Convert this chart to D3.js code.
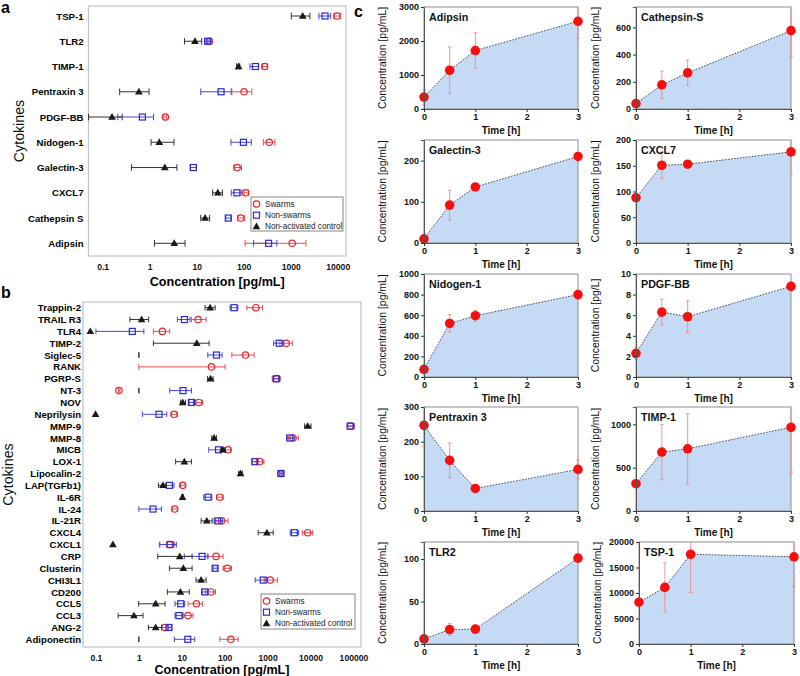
<!DOCTYPE html>
<html><head><meta charset="utf-8">
<script src="https://cdn.jsdelivr.net/npm/d3@7"></script>
<style>body{margin:0;background:#fff} text{font-family:"Liberation Sans",Arial,sans-serif}</style>
</head><body><svg id="fig" width="800" height="676"></svg>
<script>
// ---------- Panel a data ----------
const catsA = ["TSP-1","TLR2","TIMP-1","Pentraxin 3","PDGF-BB","Nidogen-1","Galectin-3","CXCL7","Cathepsin S","Adipsin"];
const aSwMean = [9700, 18.6, 279, 102, 2.16, 350, 72.6, 110, 86.7, 1076];
const aSwLo   = [8300, 16.9, 250, 56, 2.0, 262, 62, 102, 74, 107];
const aSwHi   = [11500, 20.8, 318, 149, 2.31, 461, 89.7, 126, 105, 2110];
const aNsMean = [5370, 17.1, 178, 33, 0.70, 98.7, 8.5, 71.6, 47, 339];
const aNsLo   = [3980, 15.9, 136, 12.2, 0.21, 53.6, 7.3, 54.4, 41.5, 162];
const aNsHi   = [7080, 18.3, 206, 54, 1.21, 145, 9.9, 88, 53.6, 507];
const aCtMean = [1800, 9.2, 77.6, 0.59, 0.158, 1.6, 2.1, 28.2, 15.1, 3.33];
const aCtLo   = [1030, 5.5, 70.5, 0.23, 0.05, 1.07, 0.41, 21.8, 12.2, 1.27];
const aCtHi   = [2560, 12.8, 82.6, 0.97, 0.26, 3.3, 3.8, 35.3, 18.9, 5.66];
const ticksA = [0.1, 1, 10, 100, 1000, 10000];

// ---------- Panel b data ----------
const catsB = ["Trappin-2","TRAIL R3","TLR4","TIMP-2","Siglec-5","RANK","PGRP-S","NT-3","NOV","Neprilysin","MMP-9","MMP-8","MICB","LOX-1","Lipocalin-2","LAP(TGFb1)","IL-6R","IL-24","IL-21R","CXCL4","CXCL1","CRP","Clusterin","CHI3L1","CD200","CCL5","CCL3","ANG-2","Adiponectin"];
const bSwMean = [533, 24, 3.54, 2720, 306, 49.3, 1622, 0.343, 24.9, 6.6, 84900, 3900, 120, 650, 2045, 10.5, 77, 6.85, 85, 8590, 5.24, 63, 114, 1151, 47.5, 22, 14, 4.07, 139];
const bSwLo   = [329, 16.8, 2.18, 1937, 147, 1.0, 1282, 0.33, 20.8, 5.74, 72300, 3030, 105, 543, 1900, 9.3, 64.4, 5.9, 62, 6440, 3.1, 40, 92, 834, 35.7, 14, 11.1, 3.4, 77];
const bSwHi   = [764, 36.9, 5.24, 3758, 487, 102, 1969, 0.36, 30.4, 7.9, 105000, 5190, 139, 820, 2200, 12, 92, 7.9, 120, 11250, 6.85, 92, 144, 1710, 61, 30.4, 18.3, 4.9, 206];
const bNsMean = [166, 11.5, 0.705, 1867, 64.5, null, 1590, 10.7, 16.8, 2.95, 84000, 3320, 71.8, 505, 2045, 5.15, 41.1, 2.14, 69.2, 4190, 5.33, 29.7, 59.8, 791, 34.4, 9.46, 8.6, 5.04, 13.8];
const bNsLo   = [134, 7.9, 0.10, 1380, 40.4, null, 1352, 5.24, 14.8, 1.21, 73000, 2780, 42.6, 437, 1950, 4.23, 32.6, 1.0, 56.7, 3370, 3.0, 11.5, 54, 514, 29.7, 6.97, 6.97, 4.5, 6.73];
const bNsHi   = [203, 15.6, 1.31, 2365, 87.2, null, 1807, 16.8, 18.7, 4.46, 103000, 4190, 100.8, 584, 2150, 6.6, 50, 3.35, 89, 5290, 7.5, 41, 67, 1000, 41, 11.7, 10.5, 5.7, 20.1];
const bCtMean = [45.7, 1.16, 0.074, 22.4, null, null, 46.7, null, 10.5, 0.098, 8590, 56.7, 90.5, 11.5, 234, 3.65, 10.4, null, 38.3, 963, 0.249, 8.97, 10.9, 28.2, 9.3, 2.47, 0.77, 2.47, null];
const bCtLo   = [34.9, 0.62, null, 2.18, 1, null, 40, 1, 9.3, null, 7310, 50, 81, 7.2, 210, 2.85, 9.9, null, 28.2, 604, null, 2.75, 5.15, 21.5, 4.62, 0.99, 0.33, 1.67, 1];
const bCtHi   = [59.8, 1.69, null, 43.3, 1, null, 53.7, 1, 12.2, null, 10260, 64.4, 102, 16.8, 261, 4.39, 10.9, null, 51, 1352, null, 17.4, 17.4, 36.9, 15, 4.07, 1.25, 3.4, 1];
const ticksB = [0.1, 1, 10, 100, 1000, 10000, 100000];

// ---------- Panel c data ----------
const cTimes = [0, 0.5, 1, 3];
const cNames = ["Adipsin","Cathepsin-S","Galectin-3","CXCL7","Nidogen-1","PDGF-BB","Pentraxin 3","TIMP-1","TLR2","TSP-1"];
const cMeans = [
  [350, 1140, 1720, 2580],
  [40, 178, 266, 576],
  [10, 92, 136, 210],
  [88, 151, 153, 177],
  [75, 520, 595, 800],
  [2.3, 6.3, 5.85, 8.8],
  [247, 146, 65, 120],
  [315, 680, 718, 966],
  [6, 17, 17.5, 101],
  [8200, 11100, 17600, 17100]
];
const cSDs = [
  [220, 680, 520, 500],
  [25, 100, 93, 193],
  [5, 36, 5, 5],
  [5, 25, 4, 43],
  [20, 85, 55, 40],
  [0.6, 1.25, 1.55, 0.3],
  [60, 50, 5, 27],
  [40, 320, 405, 520],
  [3, 7, 5, 3],
  [500, 4800, 7500, 5900]
];
const cYMax = [3000, 750, 250, 200, 1000, 10, 300, 1200, 120, 20000];
const cYStep = [1000, 200, 100, 50, 200, 2, 100, 500, 50, 5000];
const cYUnit = ["[pg/mL]","[pg/mL]","[pg/mL]","[pg/mL]","[pg/mL]","[pg/L]","[pg/mL]","[pg/mL]","[pg/mL]","[pg/mL]"];
const cXTicks = [0, 1, 2, 3];

const legendLabels = ["Swarms", "Non-swarms", "Non-activated control"];

// ---------- drawing ----------
const svg = d3.select("#fig");
const RED = "#e8262c", BLUE = "#2a2ad6", BLACK = "#1a1a1a";

function marker(g, shape, cx, cy, color) {
  if (shape === "circle") {
    g.append("circle").attr("cx", cx).attr("cy", cy).attr("r", 3.2)
      .attr("fill", "none").attr("stroke", color).attr("stroke-width", 1.2);
  } else if (shape === "square") {
    g.append("rect").attr("x", cx - 3).attr("y", cy - 3).attr("width", 6).attr("height", 6)
      .attr("fill", "none").attr("stroke", color).attr("stroke-width", 1.2);
  } else {
    g.append("path").attr("d", d3.symbol(d3.symbolTriangle, 26)())
      .attr("transform", `translate(${cx},${cy + 0.5})`).attr("fill", color);
  }
}

function dotPanel(cfg) {
  const g = svg.append("g");
  const x = d3.scaleLog().domain(cfg.domain).range([cfg.left, cfg.right]);
  const y = d3.scalePoint().domain(cfg.cats).range([cfg.yFirst, cfg.yLast]);
  g.append("rect").attr("x", cfg.left).attr("y", cfg.top)
    .attr("width", cfg.right - cfg.left).attr("height", cfg.bottom - cfg.top)
    .attr("fill", "none").attr("stroke", "#c6c6c6").attr("stroke-width", 1.3);
  const ax = g.append("g").attr("transform", `translate(0,${cfg.bottom})`)
    .call(d3.axisBottom(x).tickValues(cfg.ticks).tickFormat(d => String(d)).tickSize(0).tickPadding(cfg.tickPad));
  ax.select(".domain").remove();
  ax.selectAll("text").attr("font-size", 8.6).attr("font-weight", "bold").attr("fill", "#111")
    .style("font-family", "'Liberation Sans',Arial,sans-serif");
  const ay = g.append("g").attr("transform", `translate(${cfg.left},0)`)
    .call(d3.axisLeft(y).tickSize(0).tickPadding(cfg.catPad));
  ay.select(".domain").remove();
  ay.selectAll("text").attr("font-size", 9.6).attr("font-weight", "bold").attr("fill", "#000")
    .style("font-family", "'Liberation Sans',Arial,sans-serif");
  g.append("text").attr("x", (cfg.left + cfg.right) / 2).attr("y", cfg.titleY)
    .attr("text-anchor", "middle").attr("font-size", 12.6).attr("font-weight", "bold")
    .text("Concentration [pg/mL]");
  g.append("text").attr("transform", `translate(${cfg.ylabX},${(cfg.top + cfg.bottom) / 2}) rotate(-90)`)
    .attr("text-anchor", "middle").attr("font-size", 14.2).attr("fill", "#111").text("Cytokines");
  g.append("text").attr("x", 1).attr("y", cfg.letterY).attr("font-size", 16).attr("font-weight", "bold").text(cfg.letter);

  const capH = cfg.capH;
  cfg.series.forEach(s => {
    const sg = g.append("g");
    cfg.cats.forEach((c, i) => {
      const m = s.mean[i], lo = s.lo[i], hi = s.hi[i];
      const yy = y(c);
      if (lo != null && hi != null) {
        const xl = x(Math.max(lo, cfg.domain[0])), xh = x(hi);
        if (xh - xl > 0.5) {
          sg.append("line").attr("x1", xl).attr("x2", xh).attr("y1", yy).attr("y2", yy)
            .attr("stroke", s.lineColor).attr("stroke-width", 1);
        }
        [xl, xh].forEach(xc => sg.append("line").attr("x1", xc).attr("x2", xc)
          .attr("y1", yy - capH).attr("y2", yy + capH).attr("stroke", s.lineColor).attr("stroke-width", 1));
      }
      if (m != null) marker(sg, s.shape, x(m), yy, s.color);
    });
  });

  // legend
  const L = cfg.legend;
  const lg = g.append("g");
  lg.append("rect").attr("x", L.x).attr("y", L.y).attr("width", L.w).attr("height", L.h)
    .attr("fill", "#fff").attr("stroke", "#666").attr("stroke-width", 0.8);
  const shapes = [["circle", RED], ["square", BLUE], ["triangle", BLACK]];
  legendLabels.forEach((t, i) => {
    const yy = L.y + 7 + i * 11.2;
    marker(lg, shapes[i][0], L.x + 5.5, yy, shapes[i][1]);
    lg.append("text").attr("x", L.x + 14).attr("y", yy + 3).attr("font-size", 8.2).attr("fill", "#222").text(t);
  });
}

dotPanel({
  letter: "a", letterY: 13,
  cats: catsA, domain: [0.05, 15000], ticks: ticksA,
  left: 88.5, right: 346, top: 6, bottom: 256, yFirst: 16, yLast: 243.3,
  tickPad: 8, catPad: 5, titleY: 286, ylabX: 24, capH: 3.3,
  legend: { x: 251, y: 197, w: 92, h: 34 },
  series: [
    { mean: aSwMean, lo: aSwLo, hi: aSwHi, color: RED, lineColor: "#ec4a4f", shape: "circle" },
    { mean: aNsMean, lo: aNsLo, hi: aNsHi, color: BLUE, lineColor: "#4646e0", shape: "square" },
    { mean: aCtMean, lo: aCtLo, hi: aCtHi, color: BLACK, lineColor: "#333", shape: "triangle" }
  ]
});

dotPanel({
  letter: "b", letterY: 298,
  cats: catsB, domain: [0.05, 150000], ticks: ticksB,
  left: 83, right: 361, top: 302, bottom: 647, yFirst: 307.7, yLast: 639.3,
  tickPad: 8, catPad: 2, titleY: 674, ylabX: 13, capH: 2.8,
  legend: { x: 261, y: 594, w: 94, h: 35 },
  series: [
    { mean: bSwMean, lo: bSwLo, hi: bSwHi, color: RED, lineColor: "#ec4a4f", shape: "circle" },
    { mean: bNsMean, lo: bNsLo, hi: bNsHi, color: BLUE, lineColor: "#4646e0", shape: "square" },
    { mean: bCtMean, lo: bCtLo, hi: bCtHi, color: BLACK, lineColor: "#333", shape: "triangle" }
  ]
});

// ---------- Panel c ----------
svg.append("text").attr("x", 354).attr("y", 17).attr("font-size", 16).attr("font-weight", "bold").text("c");
const colsX = [[424, 578], [636, 791]];
const rowsY = [[7, 109], [140, 243], [274, 377], [407, 511], [542, 644]];
cNames.forEach((name, k) => {
  const r = Math.floor(k / 2), c = k % 2;
  let [x0, x1] = colsX[c];
  if (name === "TSP-1") { x0 = 639; x1 = 794; }
  const [yt, yb] = rowsY[r];
  const x = d3.scaleLinear().domain([0, 3]).range([x0, x1]);
  const y = d3.scaleLinear().domain([0, cYMax[k]]).range([yb, yt]);
  const g = svg.append("g");
  const clipId = "clip" + k;
  g.append("clipPath").attr("id", clipId).append("rect")
    .attr("x", x0 - 6).attr("y", yt).attr("width", x1 - x0 + 12).attr("height", yb - yt);
  const pts = cTimes.map((t, i) => ({ t, v: cMeans[k][i], sd: cSDs[k][i] }));
  g.append("path").datum(pts)
    .attr("d", d3.area().x(d => x(d.t)).y0(y(0)).y1(d => y(d.v)))
    .attr("fill", "#c5dbf5");
  g.append("rect").attr("x", x0).attr("y", yt).attr("width", x1 - x0).attr("height", yb - yt)
    .attr("fill", "none").attr("stroke", "#8c8c8c").attr("stroke-width", 1);
  // error bars
  const eg = g.append("g").attr("clip-path", `url(#${clipId})`);
  pts.forEach(d => {
    const ya = y(Math.max(0, d.v - d.sd)), yh = y(d.v + d.sd);
    eg.append("line").attr("x1", x(d.t)).attr("x2", x(d.t)).attr("y1", ya).attr("y2", yh)
      .attr("stroke", "#f08a8a").attr("stroke-width", 0.9);
    [ya, yh].forEach(yc => eg.append("line").attr("x1", x(d.t) - 1.8).attr("x2", x(d.t) + 1.8)
      .attr("y1", yc).attr("y2", yc).attr("stroke", "#f08a8a").attr("stroke-width", 0.9));
  });
  g.append("path").datum(pts)
    .attr("d", d3.line().x(d => x(d.t)).y(d => y(d.v)))
    .attr("fill", "none").attr("stroke", "#333a48").attr("stroke-width", 0.9).attr("stroke-dasharray", "1.6,1.4");
  g.selectAll("circle.pt").data(pts).join("circle").attr("class", "pt")
    .attr("cx", d => x(d.t)).attr("cy", d => y(d.v)).attr("r", 4.8).attr("fill", "#f51010");
  // axes
  const ayc = g.append("g").attr("transform", `translate(${x0},0)`)
    .call(d3.axisLeft(y).tickValues(d3.range(0, cYMax[k] + 1e-9, cYStep[k])).tickFormat(d3.format("d")).tickSize(3).tickPadding(2));
  ayc.select(".domain").attr("stroke", "#555");
  ayc.selectAll("line").attr("stroke", "#333");
  ayc.selectAll("text").attr("font-size", 9).attr("font-weight", "bold").attr("fill", "#111")
    .style("font-family", "'Liberation Sans',Arial,sans-serif");
  const axc = g.append("g").attr("transform", `translate(0,${yb})`)
    .call(d3.axisBottom(x).tickValues(cXTicks).tickFormat(d3.format("d")).tickSize(3).tickPadding(2));
  axc.select(".domain").attr("stroke", "#555");
  axc.selectAll("line").attr("stroke", "#333");
  axc.selectAll("text").attr("font-size", 9).attr("font-weight", "bold").attr("fill", "#111")
    .style("font-family", "'Liberation Sans',Arial,sans-serif");
  g.append("text").attr("x", (x0 + x1) / 2).attr("y", yb + 25).attr("text-anchor", "middle")
    .attr("font-size", 10).attr("font-weight", "bold").attr("fill", "#111").text("Time [h]");
  const ylx = c === 0 ? 386 : (name === "TSP-1" ? 601 : 599);
  g.append("text").attr("transform", `translate(${ylx},${(yt + yb) / 2}) rotate(-90)`)
    .attr("text-anchor", "middle").attr("font-size", 10.4).attr("fill", "#111")
    .text("Concentration " + cYUnit[k]);
  g.append("text").attr("x", x0 + 5).attr("y", yt + 13.5).attr("font-size", 10.7)
    .attr("font-weight", "bold").attr("fill", "#111").text(name);
});
</script></body></html>
